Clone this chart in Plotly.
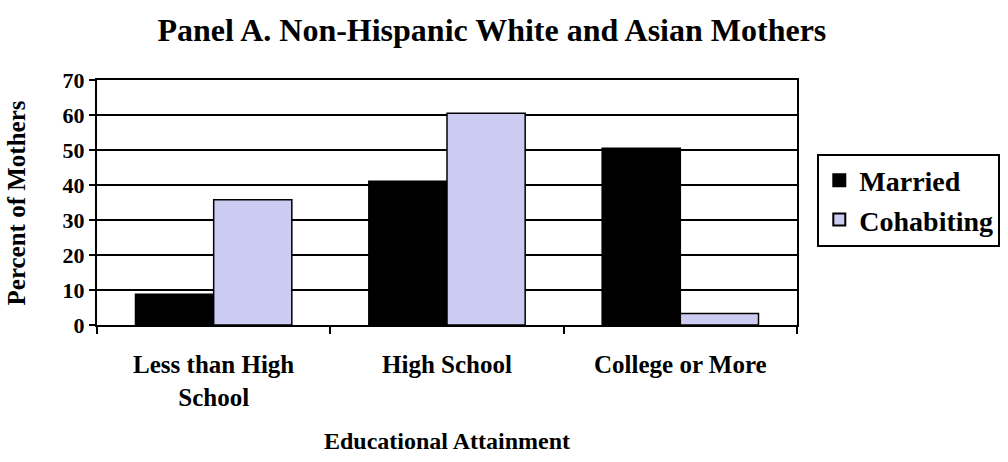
import plotly.graph_objects as go

categories = ["Less than High<br>School", "High School", "College or More"]
married = [8.8, 41.1, 50.5]
cohabiting = [35.8, 60.5, 3.3]
y_ticks = [0, 10, 20, 30, 40, 50, 60, 70]

FONT = "Liberation Serif, Times New Roman, serif"

fig = go.Figure()
fig.add_trace(go.Bar(name="<b>Married</b>", x=categories, y=married,
                     marker=dict(color="#000000", line=dict(color="#000000", width=1.5))))
fig.add_trace(go.Bar(name="<b>Cohabiting</b>", x=categories, y=cohabiting,
                     marker=dict(color="#ccccf2", line=dict(color="#000000", width=1.5))))

fig.update_layout(
    width=1008, height=462,
    paper_bgcolor="white", plot_bgcolor="white",
    margin=dict(l=97, r=211, t=80, b=137, autoexpand=False),
    barmode="group", bargap=0.33, bargroupgap=0,
    font=dict(family=FONT, color="black", size=22),
    title=dict(text="<b>Panel A. Non-Hispanic White and Asian Mothers</b>",
               x=0.488, xref="container", xanchor="center", y=0.935, yanchor="middle",
               font=dict(size=32, family=FONT)),
    legend=dict(x=1.029, y=0.70, xanchor="left", yanchor="top",
                bordercolor="black", borderwidth=2,
                font=dict(size=28, family=FONT), itemsizing="constant",
                tracegroupgap=2),
    showlegend=True,
    annotations=[
        dict(text="<b>Educational Attainment</b>", xref="paper", yref="paper",
             x=0.5, y=-0.4735, xanchor="center", yanchor="middle", showarrow=False,
             font=dict(size=24, family=FONT)),
        dict(text="<b>Percent of Mothers</b>", xref="paper", yref="paper",
             x=-0.1143, y=0.5, xanchor="center", yanchor="middle", showarrow=False,
             textangle=-90, font=dict(size=25, family=FONT)),
    ],
)
fig.update_xaxes(
    type="category", tickson="boundaries", ticks="outside", ticklen=7,
    tickwidth=2, tickcolor="black", showgrid=False, automargin=False,
    showline=True, linecolor="black", linewidth=2, mirror=True,
    tickfont=dict(size=25, family=FONT), ticklabelstandoff=16,
    tickvals=categories, ticktext=["<b>" + c + "</b>" for c in categories],
)
fig.update_yaxes(
    range=[0, 70], tickvals=y_ticks, ticktext=["<b>%d</b>" % v for v in y_ticks],
    ticks="outside", ticklen=6, tickwidth=2, tickcolor="black", automargin=False,
    showgrid=True, gridcolor="black", gridwidth=1.5,
    showline=True, linecolor="black", linewidth=2, mirror=True,
    tickfont=dict(size=22, family=FONT), zeroline=False,
)

fig.write_html("out.html")
